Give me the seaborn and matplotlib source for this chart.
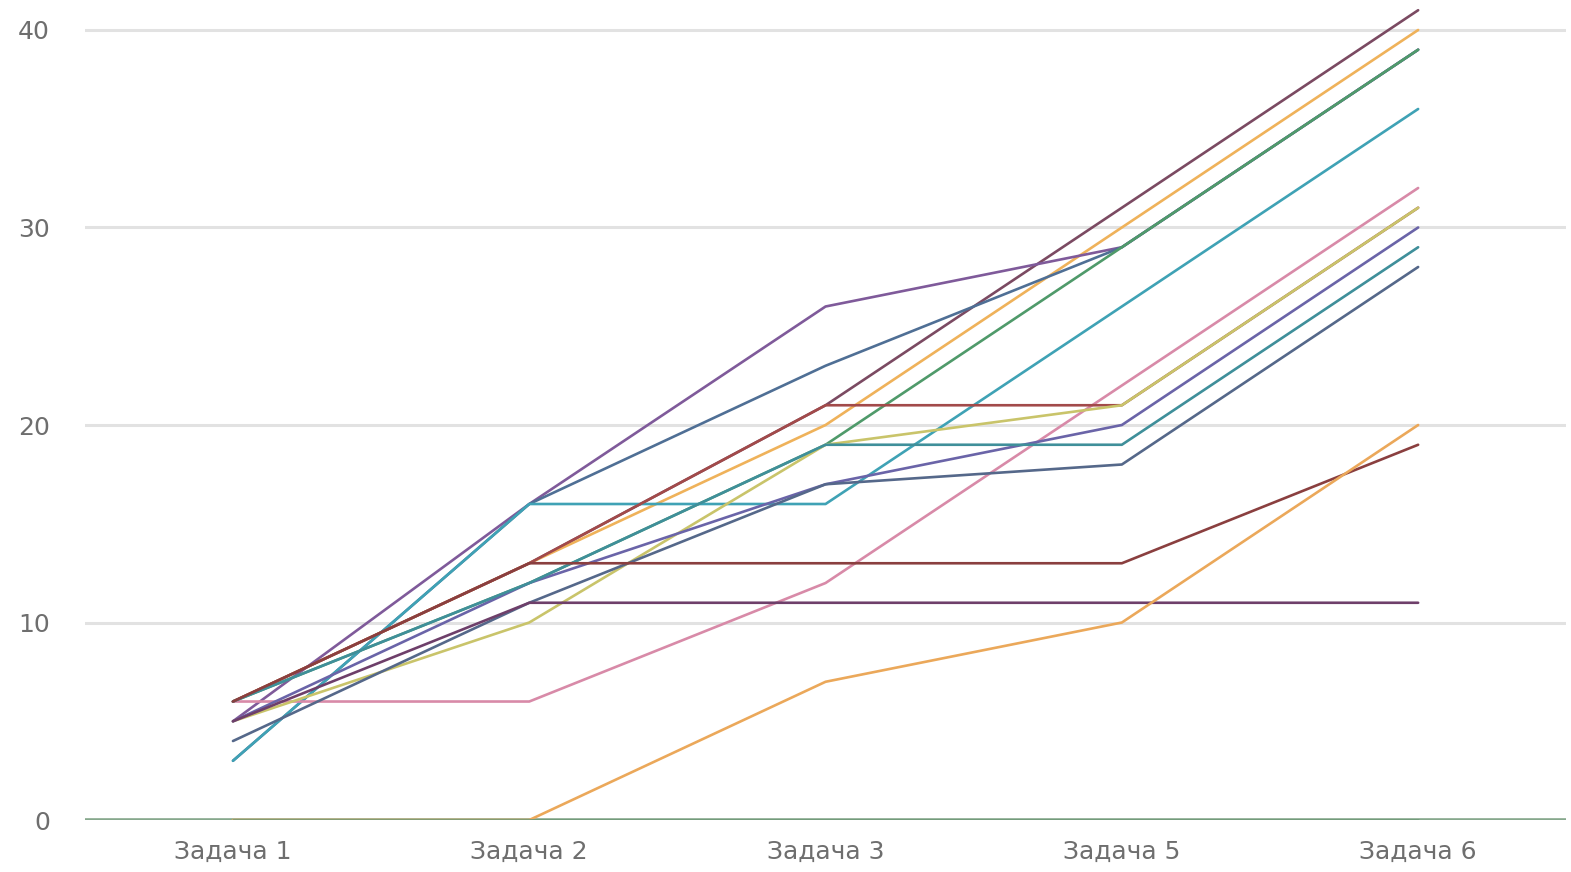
import matplotlib
matplotlib.use('Agg')
import matplotlib.pyplot as plt
import seaborn as sns
import pandas as pd

tasks = ['Задача 1', 'Задача 2', 'Задача 3', 'Задача 5', 'Задача 6']

s01 = [6, 13, 21, 31, 41]
s02 = [6, 13, 20, 30, 40]
s03 = [5, 16, 26, 29, 39]
s04 = [3, 16, 23, 29, 39]
s05 = [6, 12, 19, 29, 39]
s06 = [3, 16, 16, 26, 36]
s07 = [6, 6, 12, 22, 32]
s08 = [6, 13, 21, 21, 31]
s09 = [5, 10, 19, 21, 31]
s10 = [5, 12, 17, 20, 30]
s11 = [6, 12, 19, 19, 29]
s12 = [4, 11, 17, 18, 28]
s13 = [6, 13, 13, 13, 19]
s14 = [5, 11, 11, 11, 11]
s15 = [0, 0, 7, 10, 20]
s16 = [0, 0, 0, 0, 0]

series = [s01, s02, s03, s04, s05, s06, s07, s08,
          s09, s10, s11, s12, s13, s14, s15, s16]

colors = ['#7b4a62', '#efb25a', '#7f5a9a', '#4f6f95', '#4f9a6a', '#3fa2b5',
          '#d88aa8', '#a24a4a', '#c9c46a', '#6a64a8', '#3f8f9a', '#55688a',
          '#8a3f3f', '#6e3f6a', '#eba85a', '#6f9a78']

rows = []
for i, vals in enumerate(series):
    for t, v in zip(tasks, vals):
        rows.append({'task': t, 'value': v, 'student': f's{i + 1:02d}'})
df = pd.DataFrame(rows)

sns.set_theme(style='white')
fig = plt.figure(figsize=(15.71, 8.72), dpi=100)
ax = fig.add_axes([0.054, 0.0596, 0.943, 0.94])

sns.lineplot(data=df, x='task', y='value', hue='student', palette=colors,
             sort=False, legend=False, linewidth=1.9, ax=ax)

ax.set_xlim(-0.5, 4.5)
ax.set_ylim(0, 41.5)
ax.set_yticks([0, 10, 20, 30, 40])
ax.yaxis.grid(True, color='#e2e2e2', linewidth=2.2)
ax.set_axisbelow(True)
# zero baseline
ax.axhline(0, color='#86a88c', linewidth=2.6, zorder=1.5)
for side in ['top', 'right', 'left', 'bottom']:
    ax.spines[side].set_visible(False)
ax.set_xlabel('')
ax.set_ylabel('')
ax.tick_params(axis='both', length=0, labelsize=18, colors='#6e6e6e')
ax.tick_params(axis='y', pad=25)
ax.tick_params(axis='x', pad=14)

fig.savefig('out.png', dpi=100)
plt.close()
